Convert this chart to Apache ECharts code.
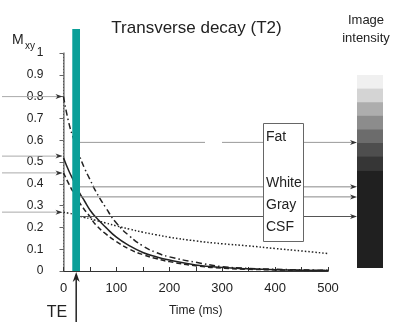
<!DOCTYPE html>
<html>
<head>
<meta charset="utf-8">
<script src="https://cdn.jsdelivr.net/npm/echarts@6/dist/echarts.min.js"></script>
<style>
  html, body { margin: 0; padding: 0; background: #fff; }
  #chart { width: 393px; height: 322px; }
</style>
</head>
<body>
<div id="chart"></div>
<script>
// time (ms)
const times = [0, 10, 20, 30, 40, 50, 60, 80, 100, 125, 150, 175, 200, 250, 300, 350, 400, 450, 500]
// Mxy
const fat = [0.8, 0.68, 0.6, 0.53, 0.47, 0.42, 0.37, 0.29, 0.22, 0.16, 0.115, 0.085, 0.065, 0.04, 0.02, 0.012, 0.008, 0.005, 0.003]
const white = [0.52, 0.46, 0.41, 0.36, 0.32, 0.28, 0.25, 0.2, 0.155, 0.115, 0.085, 0.065, 0.05, 0.028, 0.016, 0.01, 0.006, 0.004, 0.002]
const gray = [0.45, 0.4, 0.355, 0.315, 0.28, 0.25, 0.215, 0.17, 0.135, 0.1, 0.075, 0.057, 0.043, 0.024, 0.013, 0.008, 0.005, 0.003, 0.002]
const csf = [0.27, 0.265, 0.26, 0.252, 0.245, 0.24, 0.233, 0.22, 0.207, 0.192, 0.178, 0.166, 0.155, 0.138, 0.125, 0.115, 0.103, 0.092, 0.08]

const tissues = ['Fat', 'White', 'Gray', 'CSF']
const startLevels = [0.8, 0.527, 0.45, 0.27]   // arrows on the y axis
const teLevels = [0.59, 0.386, 0.34, 0.25]     // signal at TE
const teRange = [16.6, 31.2]                   // teal TE bar (ms)
const teTime = 24
const barTop = 1.11
// grey bands of the image intensity bar, light to dark
const bands = ['#f0f0f0', '#d4d4d4', '#adadad', '#8c8c8c', '#6c6c6c', '#4e4e4e', '#363636', '#202020']

const font = 'Liberation Sans, Arial, sans-serif'
const ink = '#222'

const pairs = (vals) => times.map((t, i) => [t, vals[i]])

const chart = echarts.init(document.getElementById('chart'))

const lineSeries = (name, vals, type) => ({
  name: name,
  type: 'line',
  data: pairs(vals),
  smooth: true,
  symbol: 'none',
  lineStyle: { color: ink, width: 1.5, type: type },
  z: 3
})

const option = {
  animation: false,
  title: {
    text: 'Transverse decay (T2)',
    left: 'center',
    top: 15,
    textStyle: { fontFamily: font, fontSize: 17, fontWeight: 'normal', color: ink }
  },
  grid: { left: 63.5, right: 65, top: 53, bottom: 49 },
  xAxis: [
    {
      type: 'value',
      min: 0,
      max: 500,
      interval: 50,
      name: 'Time (ms)',
      nameLocation: 'middle',
      nameGap: 34,
      nameTextStyle: { fontFamily: font, fontSize: 12, color: ink },
      axisLine: { lineStyle: { color: '#333', width: 1 } },
      axisTick: { inside: true, length: 4, lineStyle: { color: '#333' } },
      axisLabel: {
        fontFamily: font,
        fontSize: 13,
        color: ink,
        margin: 11,
        formatter: (v) => (v % 100 === 0 ? String(v) : '')
      },
      splitLine: { show: false }
    },
    {
      type: 'value',
      position: 'top',
      min: 0,
      max: 500,
      axisLine: { show: true, lineStyle: { color: '#333', width: 1 } },
      axisTick: { show: false },
      axisLabel: { show: false },
      splitLine: { show: false }
    }
  ],
  yAxis: [
    {
      type: 'value',
      min: 0,
      max: 1,
      interval: 0.1,
      axisLine: { show: true, lineStyle: { color: '#888', width: 1.5 } },
      axisTick: { show: true, length: 4, lineStyle: { color: '#666' } },
      axisLabel: {
        fontFamily: font,
        fontSize: 12,
        color: ink,
        margin: 20,
        formatter: (v) => (v === 0 || v === 1 ? String(v) : v.toFixed(1))
      },
      splitLine: { show: false }
    },
    {
      type: 'value',
      position: 'right',
      min: 0,
      max: 1,
      axisLine: { show: true, lineStyle: { color: '#555', width: 1, type: [1, 2] } },
      axisTick: { show: false },
      axisLabel: { show: false },
      splitLine: { show: false }
    }
  ],
  series: [
    lineSeries('Fat', fat, [6, 3, 1.5, 3]),
    lineSeries('White', white, 'solid'),
    lineSeries('Gray', gray, [5, 3]),
    lineSeries('CSF', csf, [1.5, 2])
  ]
}

chart.setOption(option)

const px = (t, v) => chart.convertToPixel({ gridIndex: 0 }, [t, v])

const arrowHead = (x, y, dir, color) => ({
  type: 'polygon',
  shape: { points: [[x, y], [x - 7 * dir, y - 2.5], [x - 5 * dir, y], [x - 7 * dir, y + 2.5]] },
  style: { fill: color },
  z: 20
})

const buildGraphics = () => {
  const els = []
  // teal TE bar
  const a = px(teRange[0], 0)
  const b = px(teRange[1], barTop)
  els.push({
    type: 'rect',
    shape: { x: a[0], y: b[1], width: b[0] - a[0], height: a[1] - b[1] },
    style: { fill: '#0b9f98' },
    z: 10
  })
  // arrows into the y axis
  startLevels.forEach((v) => {
    const p = px(0, v)
    els.push({
      type: 'line',
      shape: { x1: 2, y1: p[1], x2: p[0] - 2, y2: p[1] },
      style: { stroke: '#aaa', lineWidth: 1 },
      z: 5
    })
    els.push(arrowHead(p[0] - 1, p[1], 1, '#333'))
  })
  // intensity bar
  const barX = 357
  const barW = 26
  const barY0 = 75
  const bandH = 13.6
  bands.forEach((c, i) => {
    const last = i === bands.length - 1
    els.push({
      type: 'rect',
      shape: { x: barX, y: barY0 + i * bandH, width: barW, height: last ? 268 - (barY0 + i * bandH) : bandH + 0.5 },
      style: { fill: c },
      z: 5
    })
  })
  // lines from TE to the intensity bar
  teLevels.forEach((v, i) => {
    const p = px(teRange[1], v)
    if (i === 0) {
      els.push({ type: 'line', shape: { x1: p[0], y1: p[1], x2: 205, y2: p[1] }, style: { stroke: '#999', lineWidth: 1 }, z: 4 })
      els.push({ type: 'line', shape: { x1: 222, y1: p[1], x2: barX - 3, y2: p[1] }, style: { stroke: '#999', lineWidth: 1 }, z: 4 })
    } else {
      els.push({ type: 'line', shape: { x1: p[0], y1: p[1], x2: barX - 3, y2: p[1] }, style: { stroke: i === 3 ? '#555' : '#888', lineWidth: 1 }, z: 4 })
    }
    els.push(arrowHead(barX, p[1], 1, '#333'))
  })
  // label box
  els.push({
    type: 'rect',
    shape: { x: 263.5, y: 123.5, width: 40, height: 118 },
    style: { fill: '#fff', stroke: '#666', lineWidth: 1 },
    z: 12
  })
  const labelY = [137, 183, 205, 227]
  tissues.forEach((t, i) => {
    els.push({
      type: 'text',
      x: 266,
      y: labelY[i],
      style: { text: t, fontFamily: font, fontSize: 14, fill: ink, verticalAlign: 'middle' },
      z: 13
    })
  })
  // TE arrow
  const te = px(teTime, 0)
  els.push({ type: 'line', shape: { x1: te[0], y1: 322, x2: te[0], y2: te[1] + 4 }, style: { stroke: ink, lineWidth: 1.5 }, z: 14 })
  els.push({
    type: 'polygon',
    shape: { points: [[te[0], te[1] + 1], [te[0] - 3.5, te[1] + 11], [te[0], te[1] + 8], [te[0] + 3.5, te[1] + 11]] },
    style: { fill: ink },
    z: 14
  })
  els.push({
    type: 'text',
    x: 57,
    y: 313,
    style: { text: 'TE', fontFamily: font, fontSize: 16, fill: ink, align: 'center', verticalAlign: 'middle' },
    z: 14
  })
  // M_xy
  els.push({ type: 'text', x: 12, y: 33, style: { text: 'M', fontFamily: font, fontSize: 14, fill: ink }, z: 14 })
  els.push({ type: 'text', x: 25, y: 41, style: { text: 'xy', fontFamily: font, fontSize: 10, fill: ink }, z: 14 })
  // image intensity header
  els.push({
    type: 'text',
    x: 366,
    y: 29,
    style: { text: 'Image\nintensity', fontFamily: font, fontSize: 13, lineHeight: 18, fill: ink, align: 'center', verticalAlign: 'middle' },
    z: 14
  })
  return els
}

chart.setOption({ graphic: buildGraphics() })
</script>
</body>
</html>
